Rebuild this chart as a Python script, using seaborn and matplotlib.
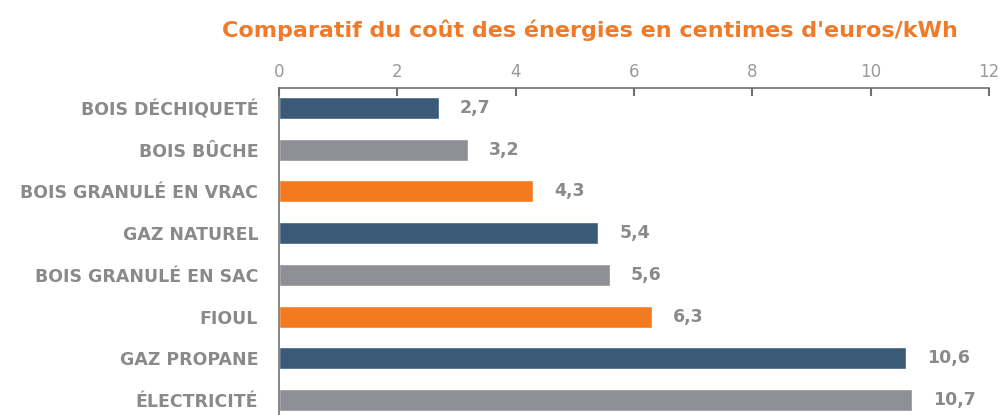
import pandas as pd
import matplotlib.pyplot as plt
import seaborn as sns

# Data
energies = ['BOIS DÉCHIQUETÉ', 'BOIS BÛCHE', 'BOIS GRANULÉ EN VRAC', 'GAZ NATUREL',
            'BOIS GRANULÉ EN SAC', 'FIOUL', 'GAZ PROPANE', 'ÉLECTRICITÉ']
costs = [2.7, 3.2, 4.3, 5.4, 5.6, 6.3, 10.6, 10.7]
groups = ['bleu', 'gris', 'orange', 'bleu', 'gris', 'orange', 'bleu', 'gris']
ticks = [0, 2, 4, 6, 8, 10, 12]

palette = {'bleu': '#3a5a78', 'gris': '#8f8f96', 'orange': '#f47a20'}
text_grey = '#8a8a8a'

df = pd.DataFrame({'energie': energies, 'cout': costs, 'groupe': groups})

sns.set_style('white')
plt.rcParams['font.family'] = ['DejaVu Sans']

fig = plt.figure(figsize=(10.05, 4.15), dpi=100)
ax = fig.add_axes([0.2776, 0.0, 0.7064, 0.788])

sns.barplot(data=df, x='cout', y='energie', hue='groupe', palette=palette,
            dodge=False, legend=False, width=0.53, saturation=1, ax=ax, orient='h')

ax.set_xlim(0, 12)
ax.set_ylim(7.36, -0.48)
ax.xaxis.tick_top()
ax.set_xticks(ticks)
ax.set_xticklabels([str(t) for t in ticks], color='#9a9a9a', fontsize=12)
ax.tick_params(axis='x', direction='in', length=6, width=1.5, color='#707070', pad=5)
ax.tick_params(axis='y', length=0, pad=15)
for lab in ax.get_yticklabels():
    lab.set_fontweight('bold')
    lab.set_color(text_grey)
    lab.set_fontsize(12.5)
ax.set_xlabel('')
ax.set_ylabel('')

for s in ['right', 'bottom']:
    ax.spines[s].set_visible(False)
ax.spines['top'].set_color('#707070')
ax.spines['top'].set_linewidth(1.2)
ax.spines['left'].set_color('#707070')
ax.spines['left'].set_linewidth(1.2)

# value labels
for i, v in enumerate(costs):
    ax.annotate(f'{v:.1f}'.replace('.', ','), (v, i), xytext=(15, 0),
                textcoords='offset points', va='center', ha='left',
                fontsize=12.5, fontweight='bold', color=text_grey)

fig.text(0.587, 0.928, "Comparatif du coût des énergies en centimes d'euros/kWh",
         ha='center', va='center', fontsize=16, fontweight='bold', color='#f07a28')

plt.savefig('out.png', dpi=100)
plt.close()
